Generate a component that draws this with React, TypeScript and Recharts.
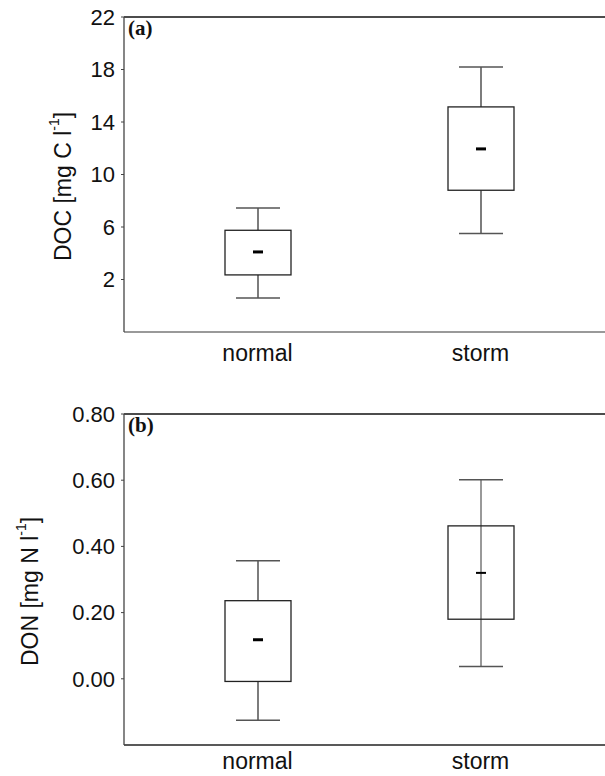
import { ComposedChart, Bar, XAxis, YAxis, ReferenceLine } from 'recharts'

const categories = ['normal', 'storm']

// panel (a): DOC [mg C l-1]
const docMin = [0.6, 5.5]
const docQ1 = [2.35, 8.8]
const docMedian = [4.1, 11.95]
const docQ3 = [5.75, 15.15]
const docMax = [7.45, 18.2]
const docTicks = [2, 6, 10, 14, 18, 22]

// panel (b): DON [mg N l-1]
const donMin = [-0.125, 0.037]
const donQ1 = [-0.008, 0.18]
const donMedian = [0.118, 0.32]
const donQ3 = [0.236, 0.462]
const donMax = [0.357, 0.601]
const donTicks = [0, 0.2, 0.4, 0.6, 0.8]

const FONT = '"Liberation Sans", Arial, Helvetica, sans-serif'
const CHART_W = 625
const AXIS_W = 124

interface BoxRow {
  name: string
  min: number
  q1: number
  median: number
  q3: number
  max: number
}

function buildRows(min: number[], q1: number[], med: number[], q3: number[], max: number[]): BoxRow[] {
  return categories.map((name, i) => ({
    name,
    min: min[i],
    q1: q1[i],
    median: med[i],
    q3: q3[i],
    max: max[i],
  }))
}

const docRows = buildRows(docMin, docQ1, docMedian, docQ3, docMax)
const donRows = buildRows(donMin, donQ1, donMedian, donQ3, donMax)

// draws box + whiskers; the bar's own pixel extent (q1..q3) gives the y scale
function makeBoxShape(throughLine: string[], thinMedian: string[]) {
  return function BoxShape(props: any) {
    const { x, y, width, height, payload } = props
    const row = payload as BoxRow
    const top = Math.min(y, y + height)
    const h = Math.abs(height)
    const k = h / (row.q3 - row.q1)
    const py = (v: number) => top + (row.q3 - v) * k
    const cx = x + width / 2
    const capHalf = 22
    const through = throughLine.includes(row.name)
    const medW = thinMedian.includes(row.name) ? 2 : 3
    return (
      <g>
        {through ? (
          <line x1={cx} x2={cx} y1={py(row.max)} y2={py(row.min)} stroke="#555" strokeWidth={1.2} />
        ) : (
          <>
            <line x1={cx} x2={cx} y1={py(row.max)} y2={top} stroke="#111" strokeWidth={1.1} />
            <line x1={cx} x2={cx} y1={top + h} y2={py(row.min)} stroke="#111" strokeWidth={1.1} />
          </>
        )}
        <line x1={cx - capHalf} x2={cx + capHalf} y1={py(row.max)} y2={py(row.max)} stroke="#555" strokeWidth={1.5} />
        <line x1={cx - capHalf} x2={cx + capHalf} y1={py(row.min)} y2={py(row.min)} stroke="#555" strokeWidth={1.5} />
        <rect x={x} y={top} width={width} height={h} fill={through ? 'none' : '#fff'} stroke="#222" strokeWidth={1.3} />
        <line x1={cx - 5} x2={cx + 5} y1={py(row.median)} y2={py(row.median)} stroke="#000" strokeWidth={medW} />
      </g>
    )
  }
}

function AxisTitle({ viewBox, cx, main }: any) {
  const cy = viewBox.y + viewBox.height / 2 + 12
  return (
    <text
      x={cx}
      y={cy}
      transform={`rotate(-90, ${cx}, ${cy})`}
      textAnchor="middle"
      dominantBaseline="central"
      fontFamily={FONT}
      fontSize={23}
      fill="#111"
    >
      {main}
      <tspan dy={-9} fontSize={14}>-1</tspan>
      <tspan dy={9}>]</tspan>
    </text>
  )
}

function PanelTag({ viewBox, tag }: any) {
  return (
    <text
      x={viewBox.x + 4}
      y={viewBox.y + 18}
      fontFamily='"Liberation Serif", "Times New Roman", serif'
      fontWeight="bold"
      fontSize={21}
      fill="#111"
    >
      {tag}
    </text>
  )
}

interface PanelProps {
  rows: BoxRow[]
  domain: [number, number]
  ticks: number[]
  decimals: number
  title: string
  titleX: number
  tag: string
  height: number
  marginTop: number
  labelGap: number
  xAxisColor: string
  throughLine: string[]
  thinMedian: string[]
}

function BoxPanel(p: PanelProps) {
  return (
    <ComposedChart
      width={CHART_W}
      height={p.height}
      data={p.rows}
      margin={{ top: p.marginTop, right: 0, left: 0, bottom: 0 }}
    >
      <XAxis
        dataKey="name"
        type="category"
        padding={{ left: 22, right: 33 }}
        height={48}
        axisLine={{ stroke: p.xAxisColor, strokeWidth: 1.3 }}
        tickLine={false}
        tickSize={6}
        tickMargin={p.labelGap}
        tick={{ fill: '#111', fontSize: 23, fontFamily: FONT }}
      />
      <YAxis
        type="number"
        domain={p.domain}
        ticks={p.ticks}
        allowDataOverflow
        width={AXIS_W}
        axisLine={{ stroke: '#444', strokeWidth: 1.3 }}
        tickLine={{ stroke: '#444' }}
        tickSize={3}
        tickMargin={6}
        tick={{ fill: '#111', fontSize: 22, fontFamily: FONT }}
        tickFormatter={(v: number) => v.toFixed(p.decimals)}
        label={{ content: (lp: any) => <AxisTitle {...lp} cx={p.titleX} main={p.title} /> }}
      />
      <ReferenceLine
        y={p.domain[1]}
        stroke="#111"
        strokeWidth={1.3}
        label={{ content: (lp: any) => <PanelTag {...lp} tag={p.tag} /> }}
      />
      <Bar
        dataKey={(d: BoxRow) => [d.q1, d.q3]}
        barSize={66}
        shape={makeBoxShape(p.throughLine, p.thinMedian)}
        isAnimationActive={false}
      />
    </ComposedChart>
  )
}

export default function App() {
  return (
    <div
      style={{
        position: 'absolute',
        left: 0,
        top: 0,
        width: 605,
        height: 776,
        overflow: 'hidden',
        background: '#fff',
      }}
    >
      <div style={{ position: 'absolute', left: 0, top: 0 }}>
        <BoxPanel
          rows={docRows}
          domain={[-2, 22]}
          ticks={docTicks}
          decimals={0}
          title="DOC [mg C l"
          titleX={63}
          tag="(a)"
          height={380}
          marginTop={17}
          labelGap={7}
          xAxisColor="#777"
          throughLine={[]}
          thinMedian={[]}
        />
      </div>
      <div style={{ position: 'absolute', left: 0, top: 380 }}>
        <BoxPanel
          rows={donRows}
          domain={[-0.2, 0.8]}
          ticks={donTicks}
          decimals={2}
          title="DON [mg N l"
          titleX={30}
          tag="(b)"
          height={413}
          marginTop={34}
          labelGap={2}
          xAxisColor="#222"
          throughLine={['storm']}
          thinMedian={['storm']}
        />
      </div>
    </div>
  )
}
